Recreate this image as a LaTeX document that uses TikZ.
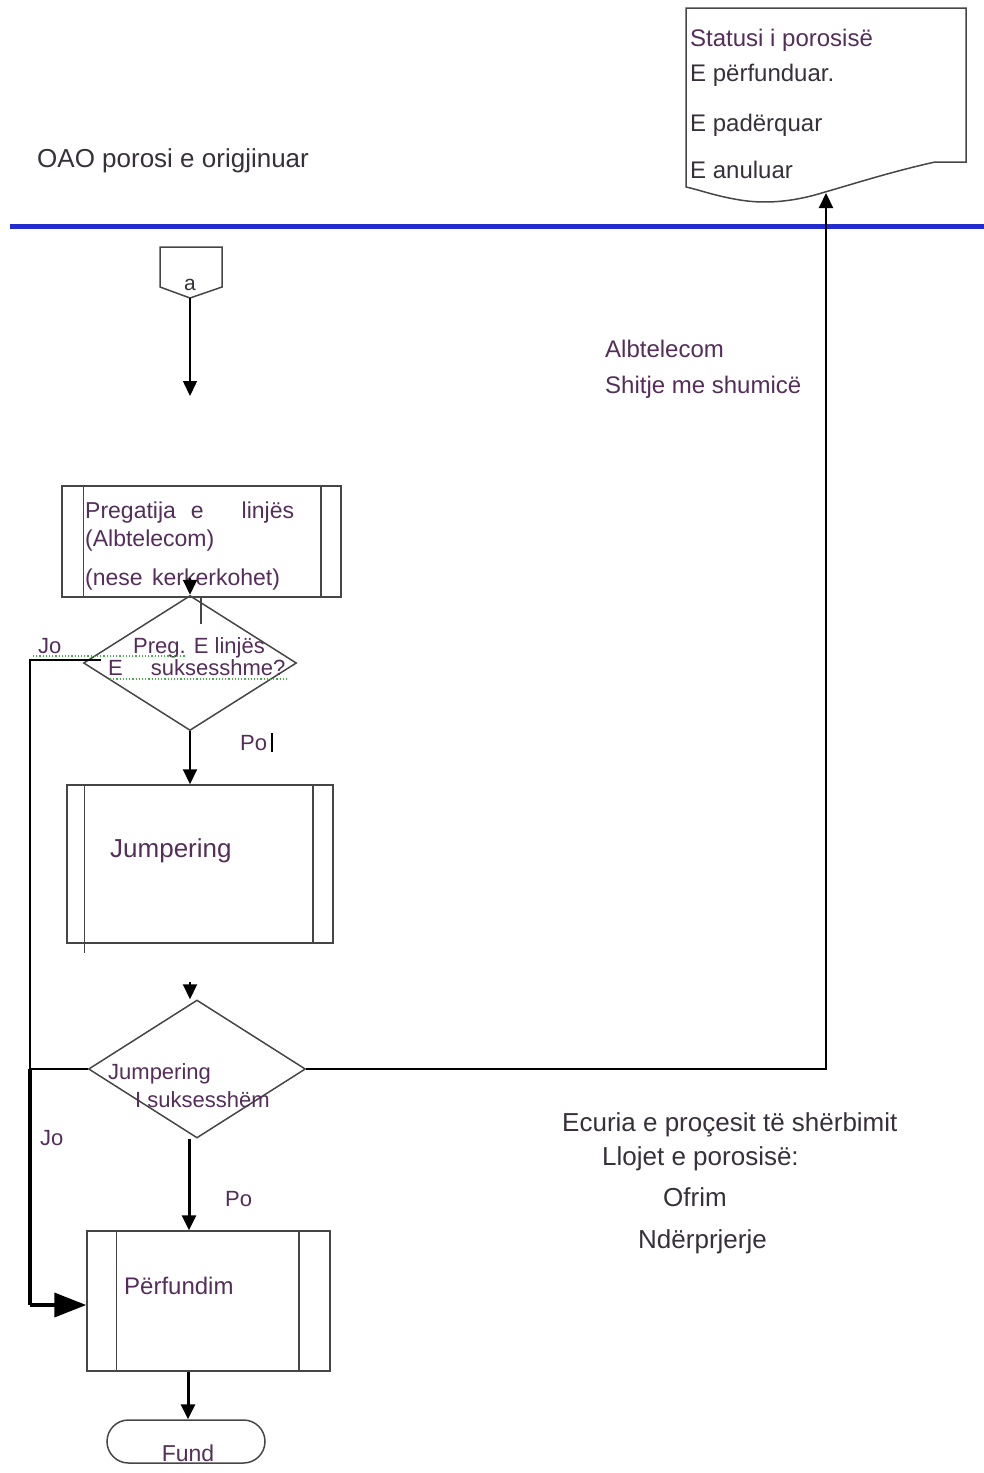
\documentclass[tikz,border=0pt]{standalone}
\usepackage{fontspec}
\setmainfont{Liberation Sans}
\usetikzlibrary{shapes.geometric,arrows.meta,calc}
\definecolor{txt}{RGB}{85,45,90}
\definecolor{ink}{RGB}{55,48,58}
\definecolor{shapeline}{RGB}{70,70,70}
\definecolor{lane}{RGB}{35,45,205}
\definecolor{spell}{RGB}{70,175,70}

\begin{document}
\begin{tikzpicture}[x=1pt,y=-1pt,
  lbl/.style={anchor=base west,inner sep=0pt,text=txt,font=\fontsize{24}{28}\selectfont},
  inklbl/.style={lbl,text=ink,font=\fontsize{26}{30}\selectfont},
  smalllbl/.style={lbl,font=\fontsize{22}{26}\selectfont},
  outline/.style={draw=shapeline,line width=1.5pt},
  procbox/.style 2 args={outline,rectangle,inner sep=0pt,minimum width=#1,minimum height=#2},
  decision/.style 2 args={outline,diamond,inner sep=0pt,minimum width=#1,minimum height=#2},
  arr/.style={-{Triangle[length=15pt,width=14pt]},line width=2pt},
  thickarr/.style={-{Triangle[length=15pt,width=14pt]},line width=3pt},
  bigarr/.style={-{Triangle[length=32pt,width=24pt]},line width=4pt},
]
\useasboundingbox (0,0) rectangle (984,1473);

% swim-lane divider
\coordinate (laneL) at (10,226);
\coordinate (laneR) at (984,226);
\draw[lane,line width=5pt] (laneL) -- (laneR);

\node[inklbl] (oao) at (37,167) {OAO porosi e origjinuar};

% status document with wavy bottom edge
\draw[outline] (686,8) -- (966,8) -- (966,162) -- (935,162)
  .. controls (890,172) and (850,185) .. (825,192)
  .. controls (800,200) and (770,205) .. (740,200)
  .. controls (715,196) and (700,190) .. (686,187) -- cycle;
\coordinate (docbot) at (826,193);
\node[lbl] (st0) at (690,46) {Statusi i porosisë};
\node[lbl,text=ink] (st1) at (690,81) {E përfunduar.};
\node[lbl,text=ink] (st2) at (690,131) {E padërquar};
\node[lbl,text=ink] (st3) at (690,178) {E anuluar};

\node[lbl] (alb1) at (605,357) {Albtelecom};
\node[lbl] (alb2) at (605,393) {Shitje me shumicë};

% off-page connector
\draw[outline] (160,247) -- (222,247) -- (222,287) -- (190,298) -- (160,287) -- cycle;
\coordinate (aconn) at (190,298);
\node[anchor=base,inner sep=0pt,text=ink,font=\fontsize{21}{24}\selectfont] (alabel) at (190,290) {a};
\coordinate (aend) at (190,396);
\draw[arr,line width=1.5pt] (aconn) -- (aend);

% line preparation
\node[procbox={279pt}{111pt}] (box1) at (201.5,541.5) {};
\draw[outline] ($(box1.north west)+(22,0)$) -- ($(box1.south west)+(22,0)$);
\draw[outline] ($(box1.north east)+(-21,0)$) -- ($(box1.south east)+(-21,0)$);
\node[lbl,font=\fontsize{23}{26}\selectfont] (p1) at (85,518) {Pregatija\hspace{15pt}e\hspace{38pt}linjës};
\node[lbl,font=\fontsize{23}{26}\selectfont] (p2) at (85,546) {(Albtelecom)};
\node[lbl,font=\fontsize{23}{26}\selectfont] (p3) at (85,585) {(nese\hspace{3pt} kerkerkohet)};

% first decision
\node[decision={213pt}{135pt}] (d1) at (190,663) {};
\draw[arr] ($(d1.north)+(0,-17)$) -- (d1.north);
\draw[outline] (201,598) -- (201,624);
\node[smalllbl] (d1a) at (133,653) {Preg. E linjës};
\node[smalllbl] (d1b) at (108,675) {E\hspace{28pt}suksesshme?};
\draw[spell,line width=1.2pt,dotted] (33,656) -- (186,656);
\draw[spell,line width=1.2pt,dotted] (110,679) -- (289,679);
\node[smalllbl] (jo1) at (38,653) {Jo};
\node[smalllbl] (po1) at (240,750) {Po};
\draw[line width=2pt] (272,733) -- (272,752);

% jumpering
\node[procbox={266pt}{158pt}] (box2) at (200,864) {};
\draw[outline] ($(box2.north west)+(18,0)$) -- ($(box2.south west)+(18,9)$);
\draw[outline] ($(box2.north east)+(-21,0)$) -- ($(box2.south east)+(-21,0)$);
\node[lbl,font=\fontsize{26}{30}\selectfont] (jmp) at (110,857) {Jumpering};
\draw[arr] (d1.south) -- (box2.north -| d1.south);

% second decision
\node[decision={217pt}{138pt}] (d2) at (197,1069) {};
\draw[arr] ($(d2.north)+(-7,-17)$) -- ($(d2.north)+(-7,0)$);
\node[smalllbl] (d2a) at (108,1079) {Jumpering};
\node[smalllbl] (d2b) at (135,1107) {I suksesshëm};
\node[smalllbl] (jo2) at (40,1145) {Jo};
\node[smalllbl] (po2) at (225,1206) {Po};

% completion
\node[procbox={243pt}{140pt}] (box3) at (208.5,1301) {};
\draw[outline] ($(box3.north west)+(30,0)$) -- ($(box3.south west)+(30,0)$);
\draw[outline] ($(box3.north east)+(-32,0)$) -- ($(box3.south east)+(-32,0)$);
\node[lbl] (fin) at (124,1294) {Përfundim};
\draw[thickarr] (d2.south -| 189,0) -- (box3.north -| 189,0);

\node[outline,rectangle,rounded corners=21.5pt,minimum width=158pt,minimum height=43pt,inner sep=0pt] (fund) at (186,1441.5) {};
\node[anchor=base,inner sep=0pt,text=txt,font=\fontsize{23}{26}\selectfont] (fundlbl) at (188,1461) {Fund};
\draw[thickarr] (box3.south -| 188,0) -- (fund.north -| 188,0);

% rejection path back to completion
\coordinate (j1) at (30,660);
\coordinate (j2) at (30,1069);
\coordinate (j3) at (30,1305);
\draw[line width=2.8pt] ($(d1.west)+(18,-3)$) -- (j1) -- (j2);
\draw[line width=1.8pt] (d2.west) -- (j2);
\draw[line width=3.5pt] (j2) -- (j3);
\draw[bigarr] (j3) -- (j3 -| box3.west);

% status feedback to the document
\draw[arr,line width=2.2pt] (d2.east) -- (d2.east -| docbot) -- (docbot);

% legend
\node[inklbl] (ec) at (562,1131) {Ecuria e proçesit të shërbimit};
\node[inklbl] (ll) at (602,1165) {Llojet e porosisë:};
\node[inklbl] (of) at (663,1206) {Ofrim};
\node[inklbl] (nd) at (638,1248) {Ndërprjerje};
\end{tikzpicture}
\end{document}
